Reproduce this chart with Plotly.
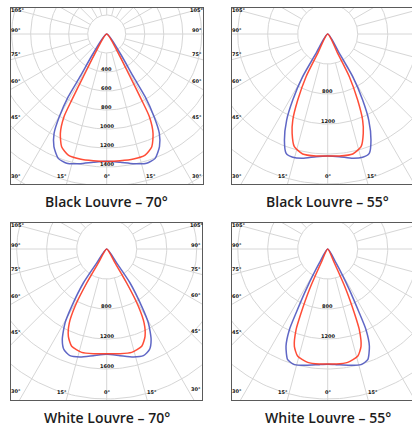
import numpy as np
import plotly.graph_objects as go

# ---------------- data (left half; curves are symmetric) ----------------
titles = ["Black Louvre – 70°", "Black Louvre – 55°", "White Louvre – 70°", "White Louvre – 55°"]

black70_blue_deg = [0, 6, 11.6, 17.2, 21.3, 25.1, 27.9, 29.8, 31.5, 32.0, 34.8, 35.5]
black70_blue_cd = [1340, 1358, 1394, 1425, 1405, 1310, 1184, 1004, 774, 530, 247, 0]
black70_red_deg = [0, 6, 12.1, 17.6, 21.8, 25.0, 27.3, 27.9, 28.7, 32.0, 32.5]
black70_red_cd = [1341, 1342, 1346, 1337, 1278, 1154, 980, 787, 513, 199, 0]

black55_blue_deg = [0, 5.4, 11.4, 15.8, 19.2, 22.2, 25.5, 27.9, 30.4, 31.1, 31.5]
black55_blue_cd = [1627, 1643, 1691, 1709, 1685, 1527, 1271, 996, 660, 301, 0]
black55_red_deg = [0, 5.5, 11.8, 16.5, 19.7, 22.1, 24.4, 26.9, 27.3, 27.5]
black55_red_cd = [1627, 1634, 1634, 1567, 1407, 1238, 967, 638, 290, 0]

white70_blue_deg = [0, 7.1, 13.9, 19.0, 23.0, 26.1, 29.4, 31.4, 34.5, 35.5, 36.0]
white70_blue_cd = [1404, 1433, 1483, 1504, 1458, 1346, 1132, 896, 550, 229, 0]
white70_red_deg = [0, 7.3, 13.6, 19.8, 23.7, 26.8, 28.9, 30.5, 30.8, 31.0]
white70_red_cd = [1395, 1407, 1418, 1379, 1272, 1105, 873, 526, 217, 0]

white55_blue_deg = [0, 4.1, 10.6, 16.1, 19.9, 23.2, 25.4, 26.3, 28.0, 30.8, 31.0]
white55_blue_cd = [1538, 1546, 1578, 1605, 1569, 1411, 1191, 952, 614, 217, 0]
white55_red_deg = [0, 4.1, 10.0, 15.6, 18.9, 21.4, 22.6, 24.3, 25.5, 25.8]
white55_red_cd = [1533, 1538, 1535, 1486, 1372, 1155, 924, 595, 207, 0]

blue_series = [(black70_blue_deg, black70_blue_cd), (black55_blue_deg, black55_blue_cd),
               (white70_blue_deg, white70_blue_cd), (white55_blue_deg, white55_blue_cd)]
red_series = [(black70_red_deg, black70_red_cd), (black55_red_deg, black55_red_cd),
              (white70_red_deg, white70_red_cd), (white55_red_deg, white55_red_cd)]

grid_step = [200, 400, 400, 400]
grid_max = [2200, 3200, 3200, 3200]
radial_labels = [[400, 600, 800, 1000, 1200, 1400], [800, 1200], [800, 1200, 1600], [800, 1200]]
angle_labels = [0, 15, 30, 45, 60, 75, 90, 105]

# ---------------- layout geometry (pixels) ----------------
W, H = 412, 427
# frame left/right/top/bottom, pole centre, px per cd, full (uncropped) right edge
panels = [
    dict(x0=11, x1=203, y0=8, y1=184, cx=106.7, cy=34, s=19 / 200, full_x1=203),
    dict(x0=232, x1=412, y0=8, y1=184, cx=327.7, cy=34, s=30 / 400, full_x1=422),
    dict(x0=11, x1=202, y0=223, y1=400, cx=106.7, cy=249, s=30 / 400, full_x1=202),
    dict(x0=232, x1=412, y0=223, y1=400, cx=327.7, cy=249, s=30 / 400, full_x1=422),
]
title_y = [201, 201, 417, 417]

BLUE = "#4f57c0"
RED = "#ff3a22"
GRID = "#d6d6d6"
FRAME = "#5a5a5a"
LABEL_FONT = dict(size=5, color="#111", family="DejaVu Sans", weight="bold")

fig = go.Figure()
annotations = []
layout_axes = {}


def mirror_curve(deg, cd):
    d = np.radians(np.asarray(deg, float))
    r = np.asarray(cd, float)
    th = np.concatenate([-d[::-1], d[1:]])
    rr = np.concatenate([r[::-1], r[1:]])
    return rr * np.sin(th), -rr * np.cos(th)


for i, p in enumerate(panels):
    n = i + 1
    xa = "x" if n == 1 else f"x{n}"
    ya = "y" if n == 1 else f"y{n}"
    s = p["s"]
    xr = [-(p["cx"] - p["x0"]) / s, (p["x1"] - p["cx"]) / s]
    yr = [-(p["y1"] - p["cy"]) / s, (p["cy"] - p["y0"]) / s]

    # grid circles and spokes
    step, rmax = grid_step[i], grid_max[i]
    t = np.linspace(0, 2 * np.pi, 241)
    gx, gy = [], []
    for r in range(step, rmax + 1, step):
        gx += list(r * np.cos(t)) + [None]
        gy += list(r * np.sin(t)) + [None]
    for a in range(0, 360, 15):
        ar = np.radians(a)
        gx += [step * np.sin(ar), rmax * np.sin(ar), None]
        gy += [-step * np.cos(ar), -rmax * np.cos(ar), None]
    fig.add_trace(go.Scatter(x=gx, y=gy, mode="lines", line=dict(color=GRID, width=1),
                             hoverinfo="skip", showlegend=False, xaxis=xa, yaxis=ya))

    for (deg, cd), col in ((blue_series[i], BLUE), (red_series[i], RED)):
        cx_, cy_ = mirror_curve(deg, cd)
        fig.add_trace(go.Scatter(x=cx_, y=cy_, mode="lines",
                                 line=dict(color=col, width=1.5, shape="spline", smoothing=0.6),
                                 opacity=0.9, hoverinfo="skip", showlegend=False,
                                 xaxis=xa, yaxis=ya))

    # radial labels
    for v in radial_labels[i]:
        annotations.append(dict(x=0, y=-v, xref=xa, yref=ya, text=str(v), showarrow=False,
                                yshift=3.5, font=LABEL_FONT))

    # angle labels around the frame
    lx = xr[0] + 5 / s
    rx = (p["full_x1"] - p["cx"]) / s - 6 / s
    by = yr[0] + 8 / s
    ty = yr[1] - 2 / s
    for a in angle_labels:
        off = 2.5 if 0 < a < 105 else 0
        for side in ((1,) if a == 0 else (-1, 1)):
            ph = np.radians(a + off)
            dx, dy = side * np.sin(ph), -np.cos(ph)
            cands = []
            if dx < 0:
                cands.append(lx / dx)
            if dx > 0:
                cands.append(rx / dx)
            if dy < 0:
                cands.append(by / dy)
            if dy > 0:
                cands.append(ty / dy)
            tt = min(c for c in cands if c > 0)
            px, py = tt * dx, tt * dy
            px = min(max(px, lx), rx)
            py = min(max(py, by), ty)
            if px > xr[1] + 4 / s:
                continue
            annotations.append(dict(x=px, y=py, xref=xa, yref=ya, text=f"{a}°", showarrow=False,
                                    font=LABEL_FONT))

    annotations.append(dict(x=0, y=1 - title_y[i] / H, xref=xa, yref="paper", text=titles[i],
                            showarrow=False, yanchor="middle",
                            font=dict(size=14, color="#1c1c1c", family="Open Sans", weight=600)))

    right_line = p["full_x1"] <= W
    axkey = "xaxis" if n == 1 else f"xaxis{n}"
    aykey = "yaxis" if n == 1 else f"yaxis{n}"
    layout_axes[axkey] = dict(domain=[p["x0"] / W, min(p["x1"] / W, 1.0)], range=xr,
                              showgrid=False, zeroline=False, showticklabels=False, ticks="",
                              showline=True, linecolor=FRAME, linewidth=1.3, mirror=True,
                              anchor=ya, fixedrange=True)
    layout_axes[aykey] = dict(domain=[1 - p["y1"] / H, 1 - p["y0"] / H], range=yr,
                              showgrid=False, zeroline=False, showticklabels=False, ticks="",
                              showline=True, linecolor=FRAME, linewidth=1.3,
                              mirror=right_line, anchor=xa, fixedrange=True)

fig.update_layout(width=W, height=H, margin=dict(l=0, r=0, t=0, b=0),
                  paper_bgcolor="white", plot_bgcolor="white", showlegend=False,
                  annotations=annotations, **layout_axes)

fig.write_html("out.html", config={"displayModeBar": False},
               post_script="document.body.style.margin='0px';document.body.style.overflow='hidden';")
